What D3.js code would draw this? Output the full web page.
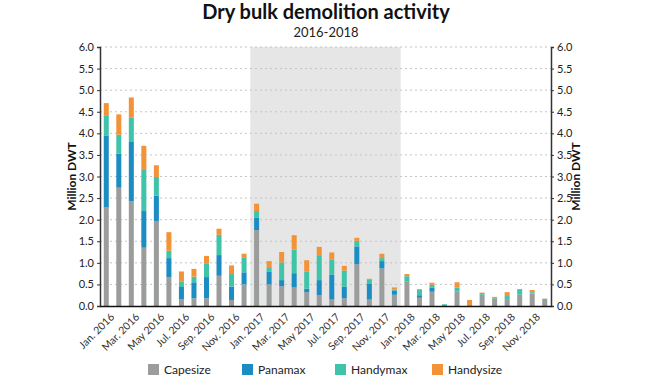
<!DOCTYPE html>
<html>
<head>
<meta charset="utf-8">
<script src="https://cdn.jsdelivr.net/npm/d3@7.9.0/dist/d3.min.js"></script>
<style>
  body { margin: 0; background: #fff; }
  svg { font-family: Lato, "Open Sans", sans-serif; }
</style>
</head>
<body>
<svg width="670" height="380"></svg>
<script>
const months = [
  'Jan. 2016','Feb. 2016','Mar. 2016','Apr. 2016','May 2016','Jun. 2016','Jul. 2016','Aug. 2016','Sep. 2016','Oct. 2016','Nov. 2016','Dec. 2016',
  'Jan. 2017','Feb. 2017','Mar. 2017','Apr. 2017','May 2017','Jun. 2017','Jul. 2017','Aug. 2017','Sep. 2017','Oct. 2017','Nov. 2017','Dec. 2017',
  'Jan. 2018','Feb. 2018','Mar. 2018','Apr. 2018','May 2018','Jun. 2018','Jul. 2018','Aug. 2018','Sep. 2018','Oct. 2018','Nov. 2018','Dec. 2018'
];
const capesize = [2.28,2.74,2.43,1.35,1.97,0.67,0.15,0.18,0.18,0.70,0.14,0.50,
  1.76,0.50,0.46,0.43,0.32,0.25,0.15,0.18,0.97,0.15,0.87,0.26,
  0.56,0.19,0.33,0,0.33,0,0.26,0.14,0.16,0.26,0.29,0.17];
const panamax = [1.66,0.79,1.37,0.85,0.59,0.44,0.29,0.37,0.49,0.48,0.31,0.28,
  0.29,0.30,0.14,0.33,0.08,0.35,0.58,0.27,0.41,0.36,0.17,0.10,
  0,0.06,0.10,0,0,0,0,0,0,0,0,0];
const handymax = [0.48,0.44,0.56,0.97,0.43,0.17,0.12,0.13,0.32,0.47,0.29,0.35,
  0.15,0.10,0.41,0.55,0.40,0.56,0.34,0.37,0.13,0.11,0.07,0.02,
  0.13,0.12,0.06,0.04,0.10,0,0.04,0.04,0.07,0.13,0.03,0];
const handysize = [0.28,0.47,0.47,0.54,0.27,0.43,0.24,0.18,0.17,0.14,0.20,0.08,
  0.17,0.14,0.24,0.33,0.26,0.21,0.17,0.11,0.07,0.01,0.10,0.05,
  0.05,0.02,0.05,0,0.12,0.14,0.01,0.03,0.09,0,0.05,0];
const seriesNames = ['Capesize','Panamax','Handymax','Handysize'];
const colors = ['#9b9d9c','#1b8dc3','#3fc3a9','#f39237'];
const yTicks = d3.range(0, 6.01, 0.5);
const shadedYear = '2017';

const svg = d3.select('svg');
const margin = { left: 100, right: 119, top: 47, bottom: 74 };
const width = 670, height = 380;

const data = months.map((m, i) => ({
  month: m,
  Capesize: capesize[i],
  Panamax: panamax[i],
  Handymax: handymax[i],
  Handysize: handysize[i]
}));

const x = d3.scaleBand()
  .domain(months)
  .range([margin.left, width - margin.right])
  .paddingInner(0.6)
  .paddingOuter(0.3);
const y = d3.scaleLinear()
  .domain([0, 6])
  .range([height - margin.bottom, margin.top]);

// shaded 2017 block
const in2017 = months.filter(m => m.endsWith(shadedYear));
const step = x.step();
const x0 = x(in2017[0]) - step * 0.3;
const x1 = x(in2017[in2017.length - 1]) + x.bandwidth() + step * 0.3;
svg.append('rect')
  .attr('x', x0)
  .attr('y', y(6))
  .attr('width', x1 - x0)
  .attr('height', y(0) - y(6))
  .attr('fill', '#e6e6e6');

// grid
svg.append('g')
  .selectAll('line')
  .data(yTicks.slice(1))
  .join('line')
  .attr('x1', margin.left)
  .attr('x2', width - margin.right)
  .attr('y1', d => y(d))
  .attr('y2', d => y(d))
  .attr('stroke', '#c4c4c4')
  .attr('stroke-dasharray', '2,3');

// stacked bars
const stack = d3.stack().keys(seriesNames);
const layers = stack(data);
svg.append('g')
  .selectAll('g')
  .data(layers)
  .join('g')
  .attr('fill', (d, i) => colors[i])
  .selectAll('rect')
  .data(d => d)
  .join('rect')
  .attr('x', d => x(d.data.month))
  .attr('width', x.bandwidth())
  .attr('y', d => y(d[1]))
  .attr('height', d => y(d[0]) - y(d[1]));

// axes
const fmt = d3.format('.1f');
const leftAxis = svg.append('g')
  .attr('transform', `translate(${margin.left},0)`)
  .call(d3.axisLeft(y).tickValues(yTicks).tickFormat(fmt).tickSize(3));
const rightAxis = svg.append('g')
  .attr('transform', `translate(${width - margin.right},0)`)
  .call(d3.axisRight(y).tickValues(yTicks).tickFormat(fmt).tickSize(3));
[leftAxis, rightAxis].forEach(a => {
  a.select('.domain').attr('stroke', '#333').attr('stroke-width', 1.5);
  a.selectAll('.tick line').attr('stroke', '#333');
  a.selectAll('text').attr('font-size', 11).attr('fill', '#222').attr('font-family', 'Lato, sans-serif');
});

const bottomAxis = svg.append('g')
  .attr('transform', `translate(0,${y(0)})`)
  .call(d3.axisBottom(x).tickValues(months.filter((m, i) => i % 2 === 0)).tickSize(0).tickSizeOuter(0));
bottomAxis.select('.domain').attr('stroke', '#111').attr('stroke-width', 1.5);
bottomAxis.selectAll('text')
  .attr('font-size', 10.5)
  .attr('fill', '#333')
  .attr('font-family', 'Lato, sans-serif')
  .attr('text-anchor', 'end')
  .attr('transform', 'translate(4,7) rotate(-45)')
  .attr('dy', '0.35em');

// axis titles
svg.append('text')
  .attr('transform', `translate(76,${(y(0) + y(6)) / 2}) rotate(-90)`)
  .attr('text-anchor', 'middle')
  .attr('font-size', 12)
  .attr('font-weight', 'bold')
  .attr('fill', '#111')
  .text('Million DWT');
svg.append('text')
  .attr('transform', `translate(580,${(y(0) + y(6)) / 2}) rotate(-90)`)
  .attr('text-anchor', 'middle')
  .attr('font-size', 12)
  .attr('font-weight', 'bold')
  .attr('fill', '#111')
  .text('Million DWT');

// titles
svg.append('text')
  .attr('x', 326).attr('y', 19)
  .attr('text-anchor', 'middle')
  .attr('font-size', 20)
  .attr('font-weight', 'bold')
  .attr('fill', '#111')
  .text('Dry bulk demolition activity');
svg.append('text')
  .attr('x', 326).attr('y', 37)
  .attr('text-anchor', 'middle')
  .attr('font-size', 13)
  .attr('fill', '#222')
  .text('2016-2018');

// legend
const legendX = [148, 242, 335, 432];
const legend = svg.append('g')
  .selectAll('g')
  .data(seriesNames)
  .join('g')
  .attr('transform', (d, i) => `translate(${legendX[i]},364)`);
legend.append('rect')
  .attr('width', 11).attr('height', 11)
  .attr('fill', (d, i) => colors[i]);
legend.append('text')
  .attr('x', 16).attr('y', 10)
  .attr('font-size', 12)
  .attr('fill', '#222')
  .text(d => d);
</script>
</body>
</html>
